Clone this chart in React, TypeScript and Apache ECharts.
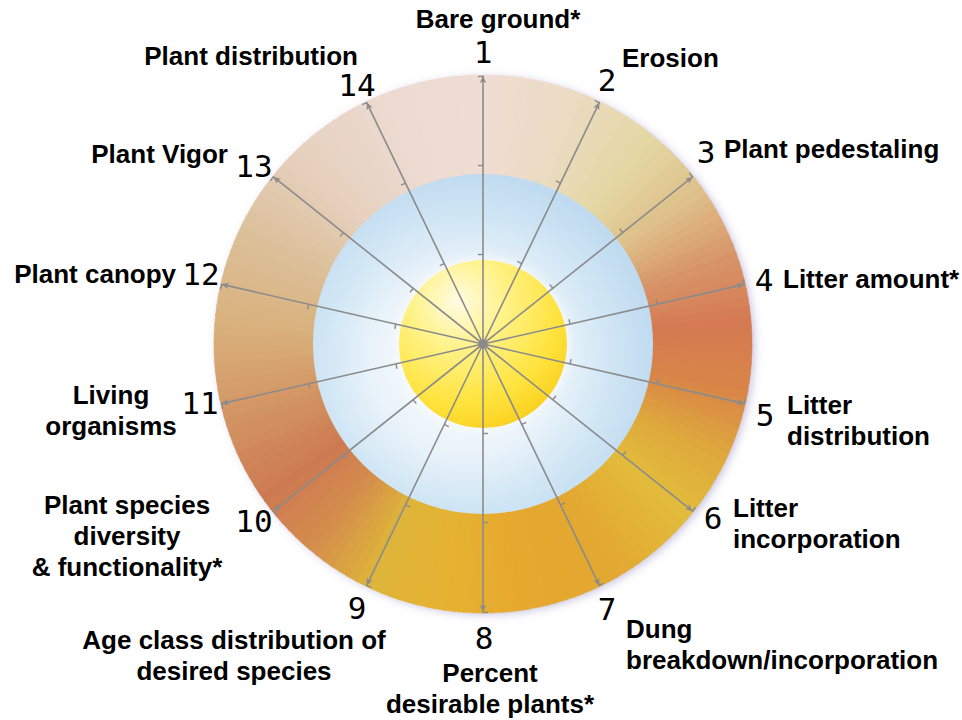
import React, { useEffect, useRef } from 'react';
import * as echarts from 'echarts';

// ---- data ----
const indicatorNumbers = ['1', '2', '3', '4', '5', '6', '7', '8', '9', '10', '11', '12', '13', '14'];
const indicatorLabels = [
  'Bare ground*',
  'Erosion',
  'Plant pedestaling',
  'Litter amount*',
  'Litter\ndistribution',
  'Litter\nincorporation',
  'Dung\nbreakdown/incorporation',
  'Percent\ndesirable plants*',
  'Age class distribution of\ndesired species',
  'Plant species\ndiversity\n& functionality*',
  'Living\norganisms',
  'Plant canopy',
  'Plant Vigor',
  'Plant distribution',
];
const levelCount = 3; // attribute rating levels (ticks on each spoke)

// ---- layout (positions only) ----
const CX = 483;
const CY = 344;
const R_OUT = 269;
const R_MID = 170;
const R_IN = 84;
const SPOKE_R = 268;

const numberPos: [number, number][] = [
  [483, 52], [607, 80], [706, 152], [764, 280], [765, 415], [713, 518], [607, 609],
  [484, 638], [357, 608], [254, 521], [200, 403], [201, 274], [254, 166], [357, 85],
];
// [x, capCenterY of first line, align]
const labelPos: [number, number, string][] = [
  [498, 18.5, 'center'], [622, 58, 'left'], [724, 149, 'left'], [783, 279, 'left'],
  [787, 404.5, 'left'], [733, 508, 'left'], [626, 628.5, 'left'], [490, 673, 'center'],
  [234, 640, 'center'], [127, 504.5, 'center'], [111, 395, 'center'], [176, 273.5, 'right'],
  [228, 154, 'right'], [358, 55.5, 'right'],
];
const LINE_GAP = 31;

// ring colour stops by angle (degrees clockwise from top)
const ringStops: [number, string][] = [
  [0, '#efdcd3'], [20, '#ebdbc2'], [40, '#e4d7a2'], [55, '#dec08a'], [70, '#d8966a'],
  [85, '#d57a52'], [100, '#d88548'], [115, '#dea83c'], [130, '#e2bc3c'], [150, '#e3a831'],
  [170, '#e6a82e'], [190, '#e6b232'], [205, '#deb53a'], [220, '#d48d4c'], [235, '#cd7a52'],
  [255, '#d39664'], [275, '#d9b27e'], [295, '#dcc09a'], [315, '#e6d0bd'], [340, '#eddbd2'],
  [360, '#efdcd3'],
];

function hexToRgb(h: string) {
  const v = parseInt(h.slice(1), 16);
  return [(v >> 16) & 255, (v >> 8) & 255, v & 255];
}
function colorAt(deg: number) {
  for (let i = 0; i < ringStops.length - 1; i++) {
    const [a0, c0] = ringStops[i];
    const [a1, c1] = ringStops[i + 1];
    if (deg >= a0 && deg <= a1) {
      const t = (deg - a0) / (a1 - a0);
      const p = hexToRgb(c0);
      const q = hexToRgb(c1);
      const m = p.map((v, k) => Math.round(v + (q[k] - v) * t));
      return `rgb(${m[0]},${m[1]},${m[2]})`;
    }
  }
  return ringStops[0][1];
}

export default function App() {
  const ref = useRef<HTMLDivElement>(null);
  useEffect(() => {
    if (!ref.current) return;
    const chart = echarts.init(ref.current, undefined, { renderer: 'svg' });

    const ringEls: any[] = [];
    const STEP = 2;
    for (let d = 0; d < 360; d += STEP) {
      const a0 = ((d - 90) * Math.PI) / 180;
      const a1 = ((d + STEP + 0.4 - 90) * Math.PI) / 180;
      const col = colorAt(d + STEP / 2);
      ringEls.push({
        type: 'sector',
        z: 1,
        silent: true,
        shape: { cx: CX, cy: CY, r: R_OUT, r0: R_MID - 2, startAngle: a0, endAngle: a1 },
        style: { fill: col, stroke: col, lineWidth: 0.5 },
      });
    }

    const graphics: any[] = [
      {
        type: 'circle',
        z: 0,
        silent: true,
        shape: { cx: CX, cy: CY, r: R_OUT - 1 },
        style: {
          fill: '#e0c8b8',
          shadowBlur: 10,
          shadowOffsetX: 3,
          shadowOffsetY: 2,
          shadowColor: 'rgba(120,110,180,0.45)',
        },
      },
      ...ringEls,
      {
        type: 'circle',
        z: 2,
        silent: true,
        shape: { cx: CX, cy: CY, r: R_MID },
        style: {
          fill: {
            type: 'radial', x: 0.45, y: 0.55, r: 0.55,
            colorStops: [
              { offset: 0, color: '#ffffff' },
              { offset: 0.5, color: '#eaf3fa' },
              { offset: 0.75, color: '#d2e7f5' },
              { offset: 1, color: '#c0dbf0' },
            ],
          },
        },
      },
      {
        type: 'circle',
        z: 3,
        silent: true,
        shape: { cx: CX, cy: CY, r: R_IN },
        style: {
          fill: {
            type: 'radial', x: 0.35, y: 0.25, r: 0.95,
            colorStops: [
              { offset: 0, color: '#fffbe4' },
              { offset: 0.3, color: '#fff286' },
              { offset: 0.65, color: '#ffe23a' },
              { offset: 1, color: '#f6c20c' },
            ],
          },
          shadowBlur: 12,
          shadowColor: 'rgba(255,255,255,0.95)',
        },
      },
    ];

    indicatorNumbers.forEach((n, i) => {
      graphics.push({
        type: 'text',
        z: 20,
        x: numberPos[i][0],
        y: numberPos[i][1],
        style: {
          text: n,
          fill: '#000',
          font: 'normal 31px "DejaVu Sans Mono"',
          lineHeight: 24,
          align: 'center',
          verticalAlign: 'middle',
        },
      });
    });

    indicatorLabels.forEach((t, i) => {
      const [x, y, align] = labelPos[i];
      t.split('\n').forEach((line, j) => {
        graphics.push({
          type: 'text',
          z: 20,
          x,
          y: y + j * LINE_GAP,
          style: {
            text: line,
            fill: '#000',
            font: 'bold 26px "Liberation Sans", Arial, sans-serif',
            lineHeight: 22,
            align,
            verticalAlign: 'middle',
          },
        });
      });
    });

    chart.setOption({
      animation: false,
      backgroundColor: '#ffffff',
      graphic: { elements: graphics },
      radar: {
        center: [CX, CY],
        radius: SPOKE_R,
        startAngle: 90,
        shape: 'circle',
        splitNumber: levelCount,
        z: 10,
        indicator: indicatorNumbers.map((n) => ({ name: n, min: 0, max: levelCount })),
        axisName: { show: false },
        axisLine: {
          show: true,
          symbol: ['none', 'arrow'],
          symbolSize: [5, 7],
          lineStyle: { color: '#8b8b8b', width: 1.6 },
        },
        axisTick: { show: true, length: 5, lineStyle: { color: '#8b8b8b', width: 1.4 } },
        splitLine: { show: false },
        splitArea: { show: false },
      },
      series: [],
    });

    return () => chart.dispose();
  }, []);

  return (
    <div
      ref={ref}
      style={{ position: 'fixed', left: 0, top: 0, width: 962, height: 720, background: '#fff' }}
    />
  );
}
